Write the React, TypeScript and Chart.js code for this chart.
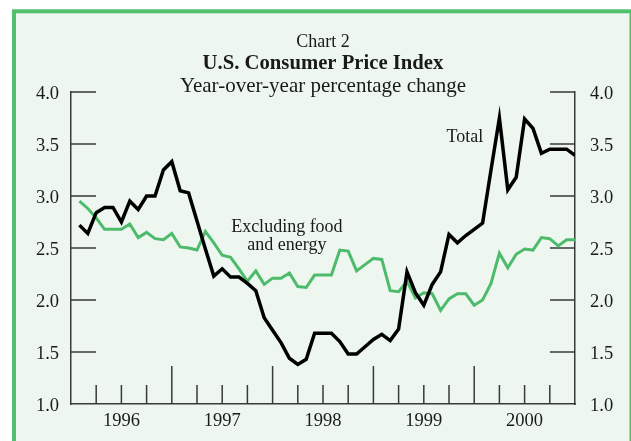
import React, { useEffect, useRef } from "react";
import { Chart, registerables } from "chart.js";

Chart.register(...registerables);

const years = ["1996", "1997", "1998", "1999", "2000"];
const monthNames = ["Jan", "Feb", "Mar", "Apr", "May", "Jun", "Jul", "Aug", "Sep", "Oct", "Nov", "Dec"];

// Total CPI, year-over-year % change, monthly Jan 1996 - Dec 2000
const totalCPI = [
  2.72, 2.64, 2.84, 2.89, 2.89, 2.75, 2.95, 2.87, 3.0, 3.0, 3.25, 3.33,
  3.05, 3.03, 2.76, 2.49, 2.23, 2.3, 2.22, 2.22, 2.16, 2.09, 1.83, 1.71,
  1.59, 1.44, 1.38, 1.43, 1.68, 1.68, 1.68, 1.6, 1.48, 1.48, 1.55, 1.62,
  1.67, 1.61, 1.72, 2.27, 2.07, 1.95, 2.15, 2.27, 2.63, 2.55, 2.62, 2.68,
  2.74, 3.25, 3.75, 3.06, 3.18, 3.74, 3.65, 3.41, 3.45, 3.45, 3.45, 3.39,
];

// CPI excluding food and energy
const coreCPI = [
  2.95, 2.88, 2.79, 2.68, 2.68, 2.68, 2.73, 2.6, 2.65, 2.59, 2.58, 2.64,
  2.51, 2.5, 2.48, 2.66, 2.55, 2.43, 2.41, 2.3, 2.18, 2.28, 2.15, 2.21,
  2.21, 2.26, 2.13, 2.12, 2.24, 2.24, 2.24, 2.48, 2.47, 2.28, 2.34, 2.4,
  2.39, 2.09, 2.08, 2.18, 2.02, 2.07, 2.06, 1.9, 2.01, 2.06, 2.06, 1.95,
  2.0, 2.16, 2.45, 2.31, 2.44, 2.49, 2.48, 2.6, 2.59, 2.52, 2.58, 2.58,
];

const yTickMin = 1.0;
const yTickMax = 4.0;
const yTickStep = 0.5;

const monthLabels: string[] = [];
years.forEach((yr) => monthNames.forEach((m) => monthLabels.push(`${m} ${yr}`)));

const GREEN = "#4dbb6b";
const BOX_GREEN = "#50bf6e";
const BG = "#edf7ef";
const AXIS = "#3a3a3a";
const TEXT = "#1a1a1a";
const FONT = "'Liberation Serif', 'Times New Roman', serif";

const decorPlugin = {
  id: "decor",
  beforeDraw(chart: any) {
    const { ctx, width, height } = chart;
    ctx.save();
    ctx.fillStyle = "#ffffff";
    ctx.fillRect(0, 0, width, height);
    ctx.fillStyle = BG;
    ctx.fillRect(14, 11, width, height);
    ctx.strokeStyle = BOX_GREEN;
    ctx.lineWidth = 4;
    ctx.strokeRect(14, 11.3, 617.5, 500);
    ctx.restore();
  },
  beforeDatasetsDraw(chart: any) {
    const { ctx, chartArea } = chart;
    const x = chart.scales.x;
    const y = chart.scales.y;
    ctx.save();
    ctx.strokeStyle = AXIS;
    ctx.lineWidth = 1.5;
    ctx.beginPath();
    // inner y ticks on both sides
    y.ticks.forEach((t: any) => {
      if (t.value <= yTickMin) return;
      const py = y.getPixelForValue(t.value);
      ctx.moveTo(chartArea.left, py);
      ctx.lineTo(chartArea.left + 25, py);
      ctx.moveTo(chartArea.right - 25, py);
      ctx.lineTo(chartArea.right, py);
    });
    // quarter ticks on x axis (tall at year boundaries)
    for (let m = 3; m < monthLabels.length; m += 3) {
      const px = x.getPixelForValue(m);
      const len = m % 12 === 0 ? 38 : 19;
      ctx.moveTo(px, chartArea.bottom);
      ctx.lineTo(px, chartArea.bottom - len);
    }
    ctx.stroke();
    ctx.restore();
  },
  afterDraw(chart: any) {
    const { ctx } = chart;
    const x = chart.scales.x;
    const y = chart.scales.y;
    const cx = (chart.chartArea.left + chart.chartArea.right) / 2;
    ctx.save();
    ctx.fillStyle = TEXT;
    ctx.textAlign = "center";
    ctx.textBaseline = "middle";
    ctx.font = `18px ${FONT}`;
    ctx.fillText("Chart 2", cx, 42);
    ctx.font = `bold 20.7px ${FONT}`;
    ctx.fillText("U.S. Consumer Price Index", cx, 64);
    ctx.font = `21px ${FONT}`;
    ctx.fillText("Year-over-year percentage change", cx, 86);

    ctx.font = `18px ${FONT}`;
    ctx.fillText("Total", x.getPixelForValue(46.9), y.getPixelForValue(3.56));
    ctx.fillText("Excluding food", x.getPixelForValue(25.7), y.getPixelForValue(2.7));
    ctx.fillText("and energy", x.getPixelForValue(25.7), y.getPixelForValue(2.53));
    ctx.restore();
  },
};

export default function App() {
  const ref = useRef<HTMLCanvasElement | null>(null);

  useEffect(() => {
    if (!ref.current) return;
    const tickFont = { family: FONT, size: 18.5 };
    const chart = new Chart(ref.current, {
      type: "line",
      data: {
        datasets: [
          {
            label: "Total",
            data: totalCPI.map((v, i) => ({ x: i + 1, y: v })),
            borderColor: "#000000",
            borderWidth: 3.5,
            pointRadius: 0,
            tension: 0,
            fill: false,
          },
          {
            label: "Excluding food and energy",
            data: coreCPI.map((v, i) => ({ x: i + 1, y: v })),
            borderColor: GREEN,
            borderWidth: 3,
            pointRadius: 0,
            tension: 0,
            fill: false,
          },
        ],
      },
      options: {
        responsive: false,
        animation: false,
        layout: { padding: { top: 92, left: 0, right: 0, bottom: 0 } },
        plugins: {
          legend: { display: false },
          tooltip: { enabled: false },
          title: { display: false },
        },
        scales: {
          x: {
            type: "linear",
            min: 0,
            max: monthLabels.length,
            grid: { display: false, drawTicks: false },
            border: { display: true, color: AXIS, width: 1.5 },
            afterBuildTicks: (scale: any) => {
              scale.ticks = years.map((_, i) => ({ value: i * 12 + 6 }));
            },
            afterFit: (scale: any) => {
              scale.height = 37;
            },
            ticks: {
              autoSkip: false,
              maxRotation: 0,
              padding: 6,
              color: TEXT,
              font: tickFont,
              callback: (value: any) => years[Math.round((Number(value) - 6) / 12)] ?? "",
            },
          },
          y: {
            position: "left",
            min: yTickMin,
            max: yTickMax,
            grid: { display: false, drawTicks: false },
            border: { display: true, color: AXIS, width: 1.5 },
            afterFit: (scale: any) => {
              scale.width = 71;
            },
            ticks: {
              stepSize: yTickStep,
              padding: 12,
              labelOffset: 2,
              color: TEXT,
              font: tickFont,
              callback: (value: any) => Number(value).toFixed(1),
            },
          },
          y1: {
            position: "right",
            min: yTickMin,
            max: yTickMax,
            grid: { display: false, drawTicks: false },
            border: { display: true, color: AXIS, width: 1.5 },
            afterFit: (scale: any) => {
              scale.width = 56;
            },
            ticks: {
              stepSize: yTickStep,
              padding: 15,
              labelOffset: 2,
              color: TEXT,
              font: tickFont,
              callback: (value: any) => Number(value).toFixed(1),
            },
          },
        },
      },
      plugins: [decorPlugin],
    });
    return () => chart.destroy();
  }, []);

  return (
    <div style={{ position: "fixed", left: 0, top: 0, width: 631, height: 441 }}>
      <canvas ref={ref} width={631} height={441} />
    </div>
  );
}
